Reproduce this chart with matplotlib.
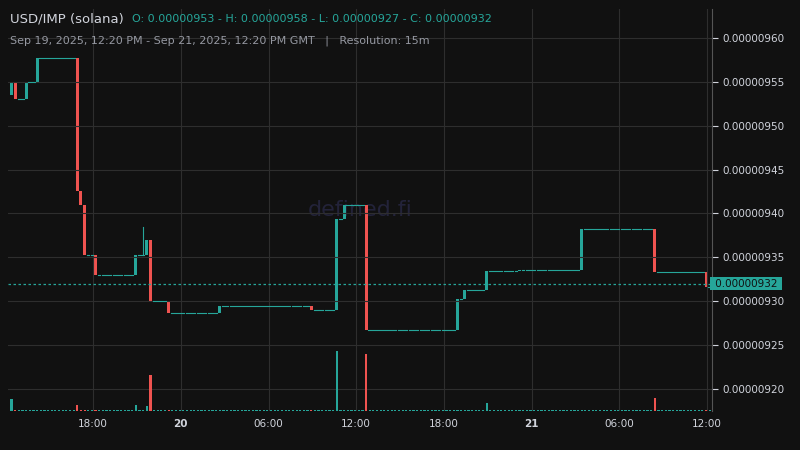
import matplotlib
matplotlib.use("Agg")
import matplotlib.pyplot as plt
import numpy as np

# price in units of 1e-8 ; times in hours from Sep 19 12:20 GMT
change_hours = [0.0, 0.25, 1.0, 1.7, 4.4, 4.65, 5.0, 5.85, 8.4, 9.15, 9.4, 10.85, 14.35, 20.6, 22.3, 22.8, 24.35, 30.45, 30.9, 32.6, 34.8, 39.1, 44.1, 47.6]
change_prices = [955.0, 953.0, 955.0, 957.7, 942.5, 941.0, 935.3, 933.0, 935.3, 937.0, 930.0, 928.7, 929.5, 929.0, 939.4, 941.0, 926.7, 930.2, 931.3, 933.4, 933.5, 938.2, 933.3, 931.6]
spike_hours = [0.0, 4.4, 8.4, 9.15, 9.4, 22.3, 24.35, 32.6, 44.1]
spike_vols = [12, 6, 6, 5, 36, 60, 57, 8, 13]
wick_high = {9.0: 938.5}
last_price = 932.0

n = 192
times = np.arange(n) * 0.25
closes = np.empty(n)
for i, t in enumerate(times):
    idx = max(j for j, h in enumerate(change_hours) if h <= t + 0.125)
    closes[i] = change_prices[idx]
opens = np.concatenate([[953.5], closes[:-1]])
closes[0] = 955.0
vols = np.full(n, 1.2)
for h, v in zip(spike_hours, spike_vols):
    vols[int(round(h / 0.25))] = v

bg = "#111111"
up, dn = "#26a69a", "#ef5350"
fig = plt.figure(figsize=(8, 4.5), dpi=100, facecolor=bg)
ax = fig.add_axes([0.01, 0.087, 0.88, 0.893])
ax.set_facecolor(bg)
ax.set_xlim(-0.15, 48.0)
ax.set_ylim(917.5, 963.3)

for i in range(n):
    t = times[i]
    o, c = opens[i], closes[i]
    col = up if c >= o else dn
    if abs(c - o) < 0.05:
        ax.plot([t, t + 0.17], [c, c], color=col, lw=0.8)
    else:
        ax.bar(t + 0.09, c - o, bottom=o, width=0.2, color=col, linewidth=0)
    hk = round(t, 2)
    if hk in wick_high:
        ax.plot([t + 0.09, t + 0.09], [max(o, c), wick_high[hk]], color=col, lw=0.8)

ax.axhline(last_price, color=up, lw=0.9, ls=(0, (2, 2)))

vax = ax.twinx()
vax.set_ylim(0, 401)
vax.set_yticks([])
vcols = [up if closes[i] >= opens[i] else dn for i in range(n)]
vax.bar(times + 0.09, vols, width=0.15, color=vcols, linewidth=0)
for s in vax.spines.values():
    s.set_visible(False)

tick_l = ["18:00", "20", "06:00", "12:00", "18:00", "21", "06:00", "12:00"]
tick_h = [5.667, 11.667, 17.667, 23.667, 29.667, 35.667, 41.667, 47.667]
ax.set_xticks(tick_h)
ax.set_xticklabels(tick_l)
for lbl in ax.get_xticklabels():
    if lbl.get_text() in ("20", "21"):
        lbl.set_fontweight("bold")
yv = [920, 925, 930, 935, 940, 945, 950, 955, 960]
ax.set_yticks(yv)
ax.set_yticklabels(["0.00000%d" % v for v in yv])
ax.yaxis.tick_right()
ax.tick_params(axis="both", colors="#d1d4dc", labelsize=7.5, length=4)
ax.tick_params(axis="x", length=0, pad=6)
ax.grid(True, color="#2e2e2e", lw=0.8)
for k, s in ax.spines.items():
    s.set_visible(False)
ax.spines["right"].set_visible(True)
ax.spines["right"].set_color("#555555")

ax.text(1.0, last_price, " 0.00000932 ", transform=ax.get_yaxis_transform(),
        color="#111111", fontsize=7.5, va="center", ha="left",
        bbox=dict(boxstyle="square,pad=0.15", fc=up, ec="none"))
ax.text(0.5, 0.5, "defined.fi", transform=ax.transAxes, color="#23233a",
        fontsize=16, ha="center", va="center", zorder=0)

fig.text(0.012, 0.958, "USD/IMP (solana)", color="#d1d4dc", fontsize=9.5, va="center")
fig.text(0.165, 0.958, "O: 0.00000953 - H: 0.00000958 - L: 0.00000927 - C: 0.00000932",
         color=up, fontsize=8, va="center")
fig.text(0.012, 0.91, "Sep 19, 2025, 12:20 PM - Sep 21, 2025, 12:20 PM GMT   |   Resolution: 15m",
         color="#9598a1", fontsize=8, va="center")
fig.savefig("out.png", dpi=100, facecolor=bg)
